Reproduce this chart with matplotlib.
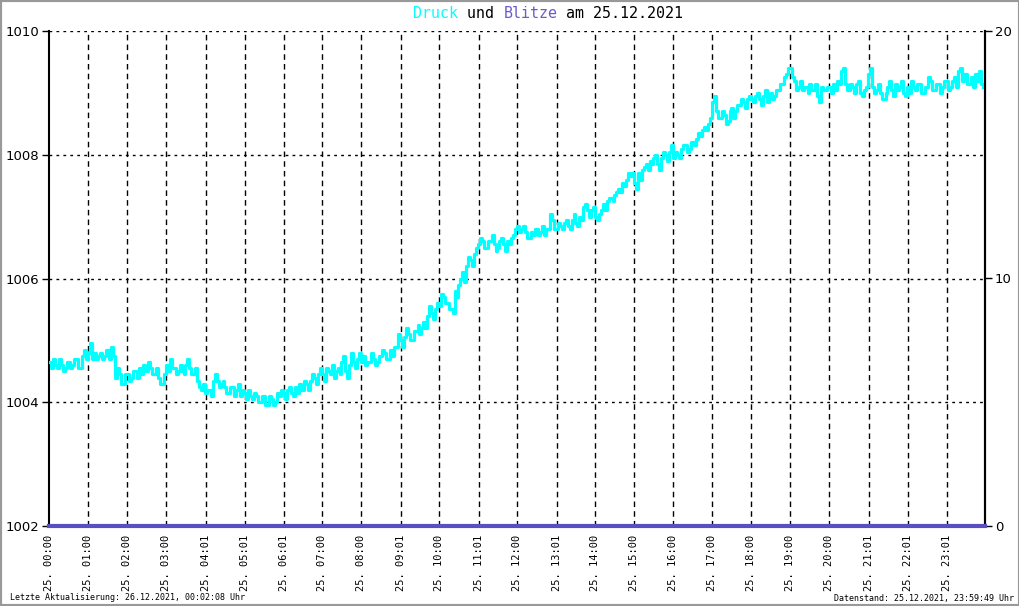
import numpy as np
import matplotlib
matplotlib.use("Agg")
import matplotlib.pyplot as plt
from matplotlib.patches import Rectangle

# Luftdruck (hPa), 20 Werte pro Stunde (alle 3 Minuten)
druck_h00 = [1004.65, 1004.55, 1004.70, 1004.60, 1004.55, 1004.70, 1004.60, 1004.50, 1004.55, 1004.65,
             1004.65, 1004.55, 1004.60, 1004.70, 1004.70, 1004.55, 1004.55, 1004.75, 1004.85, 1004.70]
druck_h01 = [1004.80, 1004.95, 1004.70, 1004.80, 1004.70, 1004.75, 1004.80, 1004.70, 1004.75, 1004.85,
             1004.85, 1004.70, 1004.90, 1004.75, 1004.40, 1004.55, 1004.45, 1004.30, 1004.30, 1004.45]
druck_h02 = [1004.45, 1004.35, 1004.40, 1004.50, 1004.50, 1004.40, 1004.55, 1004.45, 1004.60, 1004.50,
             1004.50, 1004.65, 1004.55, 1004.45, 1004.45, 1004.55, 1004.40, 1004.30, 1004.30, 1004.45]
druck_h03 = [1004.60, 1004.50, 1004.70, 1004.55, 1004.55, 1004.45, 1004.50, 1004.60, 1004.50, 1004.45,
             1004.60, 1004.70, 1004.55, 1004.45, 1004.45, 1004.55, 1004.35, 1004.25, 1004.20, 1004.30]
druck_h04 = [1004.15, 1004.20, 1004.20, 1004.10, 1004.35, 1004.45, 1004.35, 1004.25, 1004.30, 1004.35,
             1004.25, 1004.15, 1004.15, 1004.25, 1004.25, 1004.10, 1004.20, 1004.30, 1004.10, 1004.20]
druck_h05 = [1004.15, 1004.05, 1004.20, 1004.10, 1004.05, 1004.15, 1004.10, 1004.00, 1004.00, 1004.10,
             1004.10, 1003.95, 1003.95, 1004.10, 1004.05, 1003.95, 1004.00, 1004.15, 1004.10, 1004.20]
druck_h06 = [1004.15, 1004.05, 1004.20, 1004.25, 1004.15, 1004.10, 1004.25, 1004.15, 1004.30, 1004.20,
             1004.20, 1004.35, 1004.30, 1004.20, 1004.35, 1004.45, 1004.40, 1004.30, 1004.45, 1004.55]
druck_h07 = [1004.45, 1004.35, 1004.55, 1004.50, 1004.45, 1004.60, 1004.40, 1004.50, 1004.55, 1004.45,
             1004.65, 1004.75, 1004.50, 1004.40, 1004.60, 1004.80, 1004.65, 1004.55, 1004.70, 1004.80]
druck_h08 = [1004.65, 1004.75, 1004.60, 1004.65, 1004.65, 1004.80, 1004.70, 1004.60, 1004.65, 1004.75,
             1004.75, 1004.85, 1004.80, 1004.70, 1004.70, 1004.85, 1004.75, 1004.90, 1004.90, 1005.10]
druck_h09 = [1005.00, 1004.90, 1005.05, 1005.20, 1005.10, 1005.00, 1005.00, 1005.15, 1005.15, 1005.25,
             1005.10, 1005.20, 1005.30, 1005.20, 1005.40, 1005.55, 1005.45, 1005.35, 1005.50, 1005.60]
druck_h10 = [1005.55, 1005.75, 1005.70, 1005.60, 1005.60, 1005.50, 1005.50, 1005.45, 1005.80, 1005.70,
             1005.90, 1006.00, 1006.10, 1005.95, 1006.20, 1006.35, 1006.30, 1006.20, 1006.40, 1006.50]
druck_h11 = [1006.55, 1006.65, 1006.60, 1006.50, 1006.50, 1006.60, 1006.60, 1006.70, 1006.55, 1006.45,
             1006.50, 1006.60, 1006.65, 1006.55, 1006.45, 1006.60, 1006.55, 1006.65, 1006.70, 1006.80]
druck_h12 = [1006.85, 1006.75, 1006.80, 1006.85, 1006.75, 1006.65, 1006.65, 1006.75, 1006.70, 1006.80,
             1006.80, 1006.70, 1006.75, 1006.85, 1006.70, 1006.80, 1006.80, 1007.05, 1006.95, 1006.80]
druck_h13 = [1006.80, 1006.90, 1006.85, 1006.80, 1006.90, 1006.95, 1006.85, 1006.80, 1006.95, 1007.05,
             1006.90, 1006.85, 1007.00, 1006.95, 1007.15, 1007.20, 1007.10, 1007.00, 1007.10, 1007.15]
druck_h14 = [1007.00, 1006.95, 1007.05, 1007.10, 1007.20, 1007.10, 1007.25, 1007.30, 1007.30, 1007.25,
             1007.35, 1007.40, 1007.45, 1007.40, 1007.55, 1007.50, 1007.60, 1007.70, 1007.65, 1007.70]
druck_h15 = [1007.55, 1007.45, 1007.70, 1007.60, 1007.75, 1007.80, 1007.85, 1007.75, 1007.90, 1007.85,
             1007.95, 1008.00, 1007.85, 1007.75, 1007.95, 1008.05, 1008.00, 1007.90, 1008.05, 1008.15]
druck_h16 = [1007.95, 1008.05, 1008.00, 1007.95, 1008.10, 1008.15, 1008.15, 1008.05, 1008.10, 1008.20,
             1008.20, 1008.15, 1008.25, 1008.35, 1008.30, 1008.40, 1008.45, 1008.40, 1008.50, 1008.60]
druck_h17 = [1008.85, 1008.95, 1008.70, 1008.60, 1008.60, 1008.70, 1008.65, 1008.50, 1008.55, 1008.70,
             1008.75, 1008.60, 1008.70, 1008.80, 1008.80, 1008.90, 1008.85, 1008.75, 1008.90, 1008.95]
druck_h18 = [1008.90, 1008.85, 1008.95, 1009.00, 1008.90, 1008.80, 1008.95, 1009.05, 1008.85, 1008.95,
             1009.00, 1008.90, 1008.95, 1009.05, 1009.05, 1009.15, 1009.15, 1009.25, 1009.30, 1009.40]
druck_h19 = [1009.40, 1009.25, 1009.20, 1009.05, 1009.10, 1009.20, 1009.05, 1009.10, 1009.10, 1009.00,
             1009.15, 1009.05, 1009.05, 1009.15, 1008.95, 1008.85, 1009.10, 1009.05, 1009.05, 1009.10]
druck_h20 = [1009.10, 1009.00, 1009.15, 1009.05, 1009.20, 1009.15, 1009.35, 1009.40, 1009.15, 1009.05,
             1009.05, 1009.15, 1009.10, 1009.00, 1009.15, 1009.20, 1009.00, 1008.95, 1009.05, 1009.10]
druck_h21 = [1009.30, 1009.40, 1009.10, 1009.00, 1009.05, 1009.15, 1009.00, 1008.90, 1008.90, 1009.00,
             1009.10, 1009.20, 1009.05, 1008.95, 1009.15, 1009.05, 1009.10, 1009.20, 1009.00, 1008.95]
druck_h22 = [1009.10, 1009.00, 1009.20, 1009.10, 1009.05, 1009.15, 1009.15, 1009.00, 1009.00, 1009.10,
             1009.10, 1009.25, 1009.20, 1009.05, 1009.05, 1009.15, 1009.15, 1009.00, 1009.10, 1009.20]
druck_h23 = [1009.20, 1009.05, 1009.10, 1009.20, 1009.25, 1009.10, 1009.35, 1009.40, 1009.20, 1009.30,
             1009.30, 1009.15, 1009.15, 1009.25, 1009.10, 1009.30, 1009.20, 1009.35, 1009.15, 1009.10]

druck = (druck_h00 + druck_h01 + druck_h02 + druck_h03 + druck_h04 + druck_h05 +
         druck_h06 + druck_h07 + druck_h08 + druck_h09 + druck_h10 + druck_h11 +
         druck_h12 + druck_h13 + druck_h14 + druck_h15 + druck_h16 + druck_h17 +
         druck_h18 + druck_h19 + druck_h20 + druck_h21 + druck_h22 + druck_h23)
zeit = np.arange(len(druck)) / 20.0  # Stunden

# Blitze: keine Blitze an diesem Tag
blitze_zeit = [0, 24]
blitze = [0, 0]

tick_labels = ["25. 00:00", "25. 01:00", "25. 02:00", "25. 03:00", "25. 04:01", "25. 05:01",
               "25. 06:01", "25. 07:00", "25. 08:00", "25. 09:01", "25. 10:00", "25. 11:01",
               "25. 12:00", "25. 13:01", "25. 14:00", "25. 15:00", "25. 16:00", "25. 17:00",
               "25. 18:00", "25. 19:00", "25. 20:00", "25. 21:01", "25. 22:01", "25. 23:01"]
tick_pos = [int(l[4:6]) + int(l[7:9]) / 60 for l in tick_labels]

fig = plt.figure(figsize=(10.2, 6.06), dpi=100)
fig.patches.append(Rectangle((0, 0), 1, 1, transform=fig.transFigure, fill=False,
                             edgecolor="#999999", lw=3))

ax = fig.add_axes([49 / 1020, 1 - 526 / 606, 936 / 1020, 495 / 606])
ax.plot(zeit, druck, color="#00ffff", lw=2.3, drawstyle="steps-post", zorder=3)
ax.set_xlim(0, 24)
ax.set_ylim(1002, 1010)
ax.set_yticks([1002, 1004, 1006, 1008, 1010])
ax.set_xticks(tick_pos)
ax.set_xticklabels(tick_labels, rotation=90, family="DejaVu Sans Mono", fontsize=7.5)
ax.tick_params(axis="x", length=0, pad=6)
ax.tick_params(axis="y", length=5, width=1, labelsize=9.5, pad=2)

for y in [1004, 1006, 1008, 1010]:
    ax.axhline(y, color="black", lw=1, ls=(0, (2, 3)), zorder=1)
for x in tick_pos[1:]:
    ax.axvline(x, color="black", lw=1, ls=(0, (4, 3)), zorder=1)

ax.spines["top"].set_visible(False)
ax.spines["bottom"].set_visible(False)
ax.spines["left"].set_linewidth(1.5)
ax.spines["right"].set_linewidth(1.5)

ax2 = ax.twinx()
ax2.plot(blitze_zeit, blitze, color="#5a4fc0", lw=3, clip_on=False, zorder=4)
ax2.set_ylim(0, 20)
ax2.set_yticks([0, 10, 20])
ax2.tick_params(axis="y", length=5, width=1, labelsize=9.5, pad=2)
for s in ["top", "bottom", "left"]:
    ax2.spines[s].set_visible(False)
ax2.spines["right"].set_linewidth(1.5)

# Titel mit farbigen Teilen (Monospace, Zeichenbreite 0.602 em)
fs = 10.8
cw = 0.602 * fs * 100 / 72
x0 = 413
teile = [("Druck", "#00ffff"), (" und ", "black"), ("Blitze", "#6a5acd"), (" am 25.12.2021", "black")]
pos = 0
for txt, col in teile:
    fig.text((x0 + pos * cw) / 1020, 1 - 13 / 606, txt, color=col, family="DejaVu Sans Mono",
             fontsize=fs, va="center", ha="left")
    pos += len(txt)

fig.text(10 / 1020, 1 - 598 / 606, "Letzte Aktualisierung: 26.12.2021, 00:02:08 Uhr",
         family="DejaVu Sans Mono", fontsize=6, va="center", ha="left")
fig.text(1014 / 1020, 1 - 598 / 606, "Datenstand: 25.12.2021, 23:59:49 Uhr",
         family="DejaVu Sans Mono", fontsize=6, va="center", ha="right")

fig.savefig("out.png", dpi=100)
